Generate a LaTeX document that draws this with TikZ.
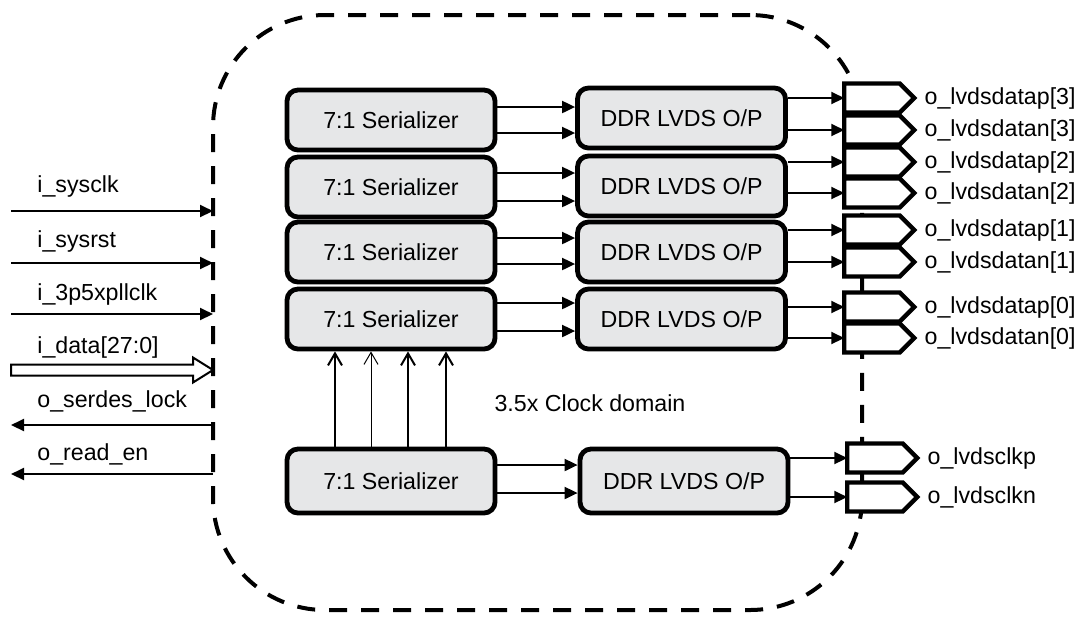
\documentclass[tikz,border=0pt]{standalone}
\usepackage{fontspec}
\setmainfont{Liberation Sans}
\usetikzlibrary{arrows.meta, shapes.symbols, positioning}
\definecolor{boxgray}{RGB}{230,231,232}
\tikzset{
  block/.style={draw, line width=2.4pt, rounded corners=5.5pt, fill=boxgray,
    minimum width=104pt, minimum height=30pt, inner sep=0pt},
  padshape/.style={draw, line width=2.2pt, fill=white, signal, signal to=east,
    signal pointer angle=90, minimum width=35pt, minimum height=14.5pt, inner sep=0pt,
    outer sep=0pt},
  domainbox/.style={draw, line width=2pt, dash pattern=on 9pt off 7pt,
    rounded corners=56pt, minimum width=324.5pt, minimum height=297.5pt,
    inner sep=0pt, outer sep=0pt},
  sig/.style={line width=1pt, -{Triangle[length=6.5pt, width=6pt]}},
  clk/.style={line width=1pt, -{Straight Barb[length=6pt, width=7pt]}},
  txt/.style={inner sep=0pt}
}

\begin{document}
\begin{tikzpicture}[x=0.5pt, y=-0.5pt, font=\fontsize{11.6}{14}\selectfont]
  \useasboundingbox (0,0) rectangle (1079,618);
  \node[domainbox] (dom) at (537.5,312.5) {};
  \node[txt] (cd) at (590,403) {3.5x Clock domain};

  \node[block] (s1) at (391,120) {7:1 Serializer};
  \node[block] (s2) at (391,187) {7:1 Serializer};
  \node[block] (s3) at (391,252) {7:1 Serializer};
  \node[block] (s4) at (391,319) {7:1 Serializer};
  \node[block, minimum height=32pt] (s5) at (391,481) {7:1 Serializer};
  \node[block] (d1) at (681.5,118) {DDR LVDS O/P};
  \node[block] (d2) at (681.5,186) {DDR LVDS O/P};
  \node[block] (d3) at (681.5,252) {DDR LVDS O/P};
  \node[block] (d4) at (681.5,319) {DDR LVDS O/P};
  \node[block, minimum height=32pt] (d5) at (684,481) {DDR LVDS O/P};

  \node[padshape] (p1) at (872,98) {};
  \node[padshape] (p2) at (872,130) {};
  \node[padshape] (p3) at (872,162) {};
  \node[padshape] (p4) at (872,193) {};
  \node[padshape] (p5) at (872,230) {};
  \node[padshape] (p6) at (872,262) {};
  \node[padshape] (p7) at (872,307) {};
  \node[padshape] (p8) at (872,338) {};
  \node[padshape] (p9) at (875,458) {};
  \node[padshape] (p10) at (875,497) {};

  \node[txt, right=5pt of p1] (l1) {o\_lvdsdatap[3]};
  \node[txt, right=5pt of p2] (l2) {o\_lvdsdatan[3]};
  \node[txt, right=5pt of p3] (l3) {o\_lvdsdatap[2]};
  \node[txt, right=5pt of p4] (l4) {o\_lvdsdatan[2]};
  \node[txt, right=5pt of p5] (l5) {o\_lvdsdatap[1]};
  \node[txt, right=5pt of p6] (l6) {o\_lvdsdatan[1]};
  \node[txt, right=5pt of p7] (l7) {o\_lvdsdatap[0]};
  \node[txt, right=5pt of p8] (l8) {o\_lvdsdatan[0]};
  \node[txt, right=5pt of p9] (l9) {o\_lvdsclkp};
  \node[txt, right=5pt of p10] (l10) {o\_lvdsclkn};

  \draw[sig] ([yshift=6.5pt]s1.east) -- ([yshift=6.5pt]s1.east -| d1.west);
  \draw[sig] ([yshift=-6.5pt]s1.east) -- ([yshift=-6.5pt]s1.east -| d1.west);
  \draw[sig] ([yshift=7pt]s2.east) -- ([yshift=7pt]s2.east -| d2.west);
  \draw[sig] ([yshift=-7pt]s2.east) -- ([yshift=-7pt]s2.east -| d2.west);
  \draw[sig] ([yshift=7pt]s3.east) -- ([yshift=7pt]s3.east -| d3.west);
  \draw[sig] ([yshift=-6pt]s3.east) -- ([yshift=-6pt]s3.east -| d3.west);
  \draw[sig] ([yshift=8pt]s4.east) -- ([yshift=8pt]s4.east -| d4.west);
  \draw[sig] ([yshift=-6pt]s4.east) -- ([yshift=-6pt]s4.east -| d4.west);
  \draw[sig] ([yshift=8pt]s5.east) -- ([yshift=8pt]s5.east -| d5.west);
  \draw[sig] ([yshift=-6pt]s5.east) -- ([yshift=-6pt]s5.east -| d5.west);

  \draw[sig] (d1.east |- p1) -- (p1.west);
  \draw[sig] (d1.east |- p2) -- (p2.west);
  \draw[sig] (d2.east |- p3) -- (p3.west);
  \draw[sig] (d2.east |- p4) -- (p4.west);
  \draw[sig] (d3.east |- p5) -- (p5.west);
  \draw[sig] (d3.east |- p6) -- (p6.west);
  \draw[sig] (d4.east |- p7) -- (p7.west);
  \draw[sig] (d4.east |- p8) -- (p8.west);
  \draw[sig] (d5.east |- p9) -- (p9.west);
  \draw[sig] (d5.east |- p10) -- (p10.west);

  \draw[clk] ([xshift=-28pt]s5.north) -- ([xshift=-28pt]s4.south);
  \draw[clk, line width=0.5pt] ([xshift=-10pt]s5.north) -- ([xshift=-10pt]s4.south);
  \draw[clk] ([xshift=8.5pt]s5.north) -- ([xshift=8.5pt]s4.south);
  \draw[clk] ([xshift=27.5pt]s5.north) -- ([xshift=27.5pt]s4.south);

  \coordinate (clkin) at (11,211);
  \coordinate (rstin) at (11,263);
  \coordinate (pllin) at (11,314);
  \coordinate (datain) at (11,370);
  \coordinate (lockout) at (11,425);
  \coordinate (rdout) at (11,474);
  \node[txt, anchor=base west] (lclk) at (37,192) {i\_sysclk};
  \node[txt, anchor=base west] (lrst) at (37,247) {i\_sysrst};
  \node[txt, anchor=base west] (lpll) at (37,300) {i\_3p5xpllclk};
  \node[txt, anchor=base west] (ldata) at (37,353) {i\_data[27:0]};
  \node[txt, anchor=base west] (llock) at (37,407) {o\_serdes\_lock};
  \node[txt, anchor=base west] (lrd) at (37,460) {o\_read\_en};
  \draw[sig] (clkin) -- (clkin -| dom.west);
  \draw[sig] (rstin) -- (rstin -| dom.west);
  \draw[sig] (pllin) -- (pllin -| dom.west);
  \draw[line width=1pt, fill=white] (datain) ++(0,-5.5) -- ++(182,0) -- ++(0,-7)
    -- (datain -| dom.west) -- ++(-20,12.5) -- ++(0,-7) -- ++(-182,0) -- cycle;
  \draw[sig] (lockout -| dom.west) -- (lockout);
  \draw[sig] (rdout -| dom.west) -- (rdout);
\end{tikzpicture}
\end{document}
